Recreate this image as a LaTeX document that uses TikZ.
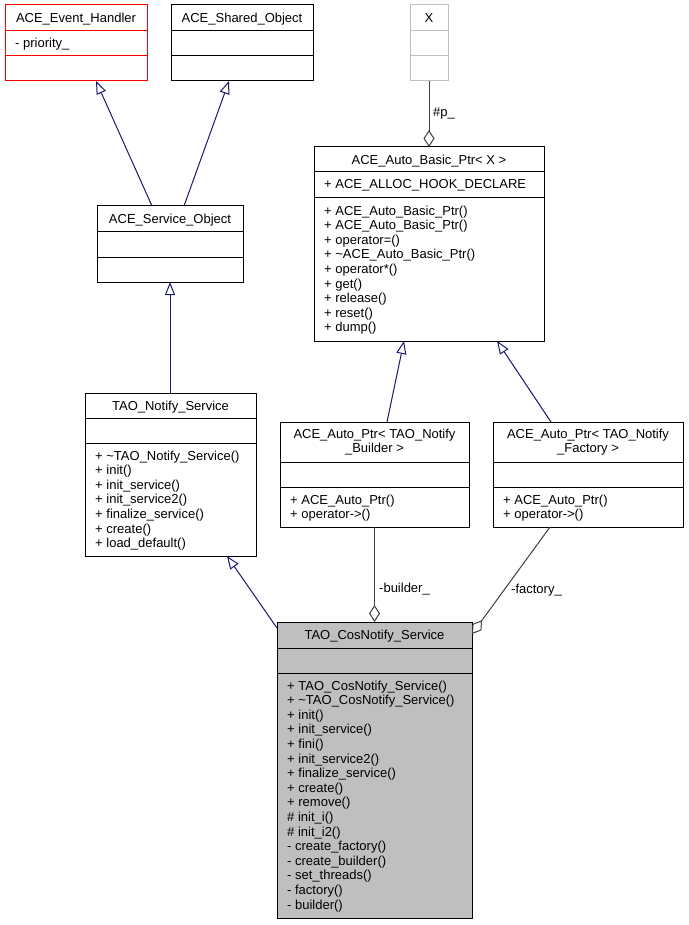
\documentclass[tikz,border=0pt]{standalone}
\usepackage{fontspec}
\setmainfont{Liberation Sans}
\usetikzlibrary{arrows.meta,calc}
\definecolor{edgeblue}{HTML}{191970}
\definecolor{aggr}{HTML}{404040}
\definecolor{grayline}{HTML}{BFBFBF}
\definecolor{cnsfill}{HTML}{BFBFBF}
\newcommand{\fs}{\fontsize{13}{14.6}\selectfont}
% name, x1, y1, x2, y2, line1, line2, line colour, fill colour
\newcommand{\cbx}[9]{%
  \node[cbox, draw=#8, fill=#9, anchor=north west,
        minimum width={#4-#2}, minimum height={#5-#3}] (#1) at (#2,#3) {};
  \draw[line width=1pt, draw=#8] (#2,#6) -- (#4,#6) (#2,#7) -- (#4,#7);
}
% prefix, x, first baseline, list of lines
\newcommand{\mems}[4]{%
  \foreach \t [count=\i] in {#4} {
    \node[mem, name=#1-\i] at ({#2},{#3+14.6*(\i-1)}) {\t};
  }
}
\tikzset{
  cbox/.style={line width=1pt, inner sep=0pt, outer sep=0pt},
  ttl/.style={anchor=base, inner sep=0pt, font=\fs},
  mem/.style={anchor=base west, inner sep=0pt, font=\fs},
  elbl/.style={anchor=base west, inner sep=0pt, font=\fs},
  inh/.style={draw=edgeblue, line width=1pt,
    -{Triangle[open, length=13pt, width=10pt, fill=white]}},
  agg/.style={draw=aggr, line width=1pt,
    -{Diamond[open, length=17pt, width=11pt, fill=white]}},
}
\begin{document}
\begin{tikzpicture}[x=1pt,y=-1pt]
\fill[white] (0,0) rectangle (688,925);
\useasboundingbox (0,0) rectangle (688,925);

% boxes
\cbx{evh}{5}{5}{147}{81}{31}{56}{red}{white}
\cbx{sho}{171}{5}{313}{81}{31}{56}{black}{white}
\cbx{X}{410}{5}{448}{81}{31}{56}{grayline}{white}
\cbx{so}{97}{206}{243}{282}{231}{257}{black}{white}
\cbx{abp}{314}{147}{544}{341}{172}{198}{black}{white}
\cbx{tns}{85}{393}{256}{556}{418}{443}{black}{white}
\cbx{apb}{280}{422}{469}{527}{462}{487}{black}{white}
\cbx{apf}{493}{422}{683}{527}{462}{487}{black}{white}
\cbx{cns}{277}{622}{472}{918}{648}{673}{black}{cnsfill}

% titles
\node[ttl] (evh-t) at (76,22.5) {ACE\_Event\_Handler};
\node[ttl] (sho-t) at (242,22.5) {ACE\_Shared\_Object};
\node[ttl] (X-t) at (429,22.5) {X};
\node[ttl] (so-t) at (170,223.5) {ACE\_Service\_Object};
\node[ttl] (abp-t) at (429,164.5) {ACE\_Auto\_Basic\_Ptr< X >};
\node[ttl] (tns-t) at (170.5,410.5) {TAO\_Notify\_Service};
\node[ttl] (apb-t1) at (374.5,438) {ACE\_Auto\_Ptr< TAO\_Notify};
\node[ttl] (apb-t2) at (374.5,452.6) {\_Builder >};
\node[ttl] (apf-t1) at (588,438) {ACE\_Auto\_Ptr< TAO\_Notify};
\node[ttl] (apf-t2) at (588,452.6) {\_Factory >};
\node[ttl] (cns-t) at (374.5,639.5) {TAO\_CosNotify\_Service};

% members
\mems{evha}{15}{48}{- priority\_}
\mems{abpa}{324}{189}{+ ACE\_ALLOC\_HOOK\_DECLARE}
\mems{abpm}{324}{215}{+ ACE\_Auto\_Basic\_Ptr(), + ACE\_Auto\_Basic\_Ptr(), + operator=(), + \textasciitilde ACE\_Auto\_Basic\_Ptr(), + operator*(), + get(), + release(), + reset(), + dump()}
\mems{tnsm}{95}{460}{+ \textasciitilde TAO\_Notify\_Service(), + init(), + init\_service(), + init\_service2(), + finalize\_service(), + create(), + load\_default()}
\mems{apbm}{290}{504}{+ ACE\_Auto\_Ptr(), + operator->()}
\mems{apfm}{503}{504}{+ ACE\_Auto\_Ptr(), + operator->()}
\mems{cnsm}{287}{690}{+ TAO\_CosNotify\_Service(), + \textasciitilde TAO\_CosNotify\_Service(), + init(), + init\_service(), + fini(), + init\_service2(), + finalize\_service(), + create(), + remove(), \# init\_i(), \# init\_i2(), - create\_factory(), - create\_builder(), - set\_threads(), - factory(), - builder()}

% inheritance
\draw[inh] ($(so.north)+(-18,0)$) -- ($(evh.south)+(20,0)$);
\draw[inh] ($(so.north)+(14,0)$) -- ($(sho.south)+(-13,0)$);
\draw[inh] (so.south |- tns.north) -- (so.south);
\draw[inh] ($(apb.north)+(12.5,0)$) -- ($(abp.south)+(-25,0)$);
\draw[inh] ($(apf.north)+(-37,0)$) -- ($(abp.south)+(68,0)$);
\draw[inh] ($(cns.north west)+(0,6)$) -- ($(tns.south)+(56.5,0)$);

% aggregation
\draw[agg] (X.south) -- (abp.north);
\draw[agg] (apb.south) -- (cns.north);
\draw[agg] ($(apf.south)+(-38,0)$) -- ($(cns.north east)+(0,12)$);

\node[elbl] (lp) at (433,117) {\#p\_};
\node[elbl] (lb) at (379,592) {-builder\_};
\node[elbl] (lf) at (511,593) {-factory\_};
\end{tikzpicture}
\end{document}
